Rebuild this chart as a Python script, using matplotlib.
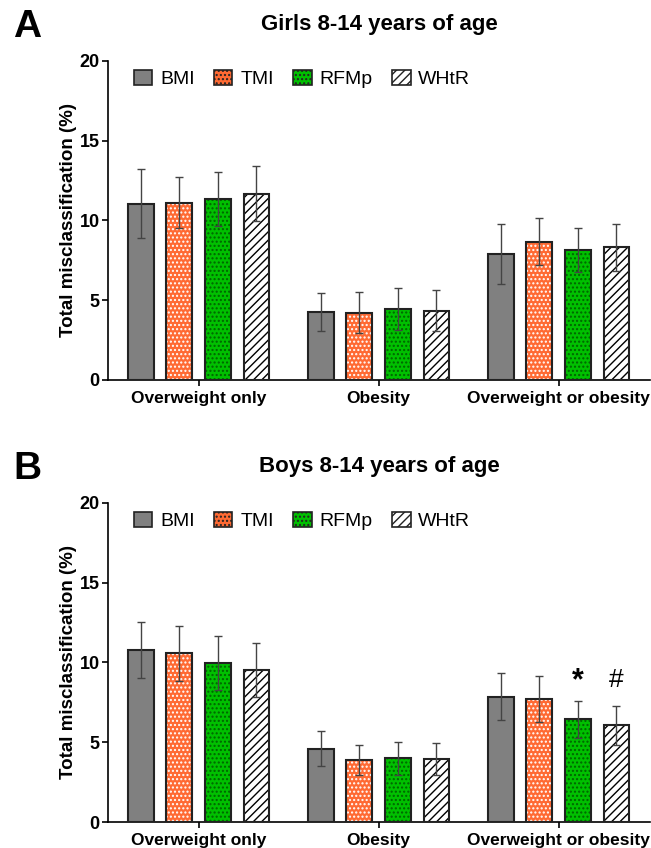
import numpy as np
import matplotlib
matplotlib.use("Agg")
import matplotlib.pyplot as plt
from matplotlib.patches import Patch

plt.rcParams['font.family'] = ['Liberation Sans', 'DejaVu Sans']
plt.rcParams['hatch.linewidth'] = 1.0

groups = ['Overweight only', 'Obesity', 'Overweight or obesity']
methods = ['BMI', 'TMI', 'RFMp', 'WHtR']

girls_vals = [[11.05, 4.25, 7.9],
              [11.1, 4.22, 8.67],
              [11.35, 4.45, 8.15],
              [11.68, 4.35, 8.3]]
girls_err = [[2.15, 1.2, 1.9],
             [1.6, 1.28, 1.45],
             [1.7, 1.3, 1.4],
             [1.73, 1.3, 1.45]]

boys_vals = [[10.77, 4.6, 7.87],
             [10.58, 3.91, 7.7],
             [9.98, 4.0, 6.45],
             [9.54, 3.96, 6.06]]
boys_err = [[1.77, 1.1, 1.48],
            [1.73, 0.95, 1.45],
            [1.68, 1.05, 1.15],
            [1.7, 1.0, 1.23]]
# significance marks: (method index, group index) -> symbol
boys_marks = {(2, 2): '*', (3, 2): '#'}

face = ['#808080', '#ff6a33', '#00c000', 'white']
hatch = [None, '....', '....', '////']
hatch_col = [None, 'white', '#006400', 'black']

fig = plt.figure(figsize=(6.51, 8.48), dpi=100)
ax_a = fig.add_axes([0.166, 0.5519, 0.8325, 0.3765])
ax_b = fig.add_axes([0.166, 0.0303, 0.8325, 0.377])

step = 0.2144
width = 0.144
x = np.arange(len(groups))


def draw(ax, vals, errs, title, letter, marks):
    for i in range(len(methods)):
        pos = x + (i - 1.5) * step
        ax.bar(pos, vals[i], width, color=face[i], edgecolor='none', zorder=2)
        if hatch[i]:
            ax.bar(pos, vals[i], width, fill=False, hatch=hatch[i],
                   edgecolor=hatch_col[i], linewidth=0, zorder=3)
        ax.bar(pos, vals[i], width, fill=False, edgecolor='#222222',
               linewidth=1.5, zorder=4)
        ax.errorbar(pos, vals[i], yerr=errs[i], fmt='none', ecolor='#444444',
                    elinewidth=1, capsize=3, capthick=1, zorder=5)
    for (i, g), m in marks.items():
        px = x[g] + (i - 1.5) * step
        top = vals[i][g] + errs[i][g]
        off = 1.2 if m == '*' else 1.6
        ax.text(px, top + off, m, ha='center', va='center',
                fontsize=22 if m == '*' else 19, fontweight='bold' if m == '*' else 'normal')

    ax.set_xlim(-0.503, 2.508)
    ax.set_ylim(0, 20)
    ax.set_yticks([0, 5, 10, 15, 20])
    ax.set_xticks(x)
    ax.set_xticklabels(groups, fontsize=12.5, fontweight='bold')
    ax.tick_params(axis='y', labelsize=13, width=1.2, length=4, pad=2)
    for lab in ax.get_yticklabels():
        lab.set_fontweight('bold')
    ax.tick_params(axis='x', width=1.2, length=4, pad=4)
    ax.spines['top'].set_visible(False)
    ax.spines['right'].set_visible(False)
    ax.spines['left'].set_linewidth(1.2)
    ax.spines['bottom'].set_linewidth(1.2)
    ax.set_ylabel('Total misclassification (%)', fontsize=13.5, fontweight='bold')
    ax.yaxis.set_label_coords(-0.057, 0.5)
    ax.set_title(title, fontsize=16, fontweight='bold', pad=22)
    ax.text(-0.175, 1.075, letter, transform=ax.transAxes, fontsize=28,
            fontweight='bold', va='baseline', ha='left')

    handles = []
    for i in range(len(methods)):
        handles.append(Patch(facecolor=face[i], edgecolor='#222222',
                             hatch=hatch[i], linewidth=1.2, label=methods[i]))
    ax.legend(handles=handles, ncol=4, loc='upper left',
              bbox_to_anchor=(0.015, 1.026), frameon=False, fontsize=14,
              handlelength=0.95, handleheight=0.85, columnspacing=1.0,
              handletextpad=0.4)


draw(ax_a, girls_vals, girls_err, 'Girls 8-14 years of age', 'A', {})
draw(ax_b, boys_vals, boys_err, 'Boys 8-14 years of age', 'B', boys_marks)

fig.savefig('out.png', dpi=100)
